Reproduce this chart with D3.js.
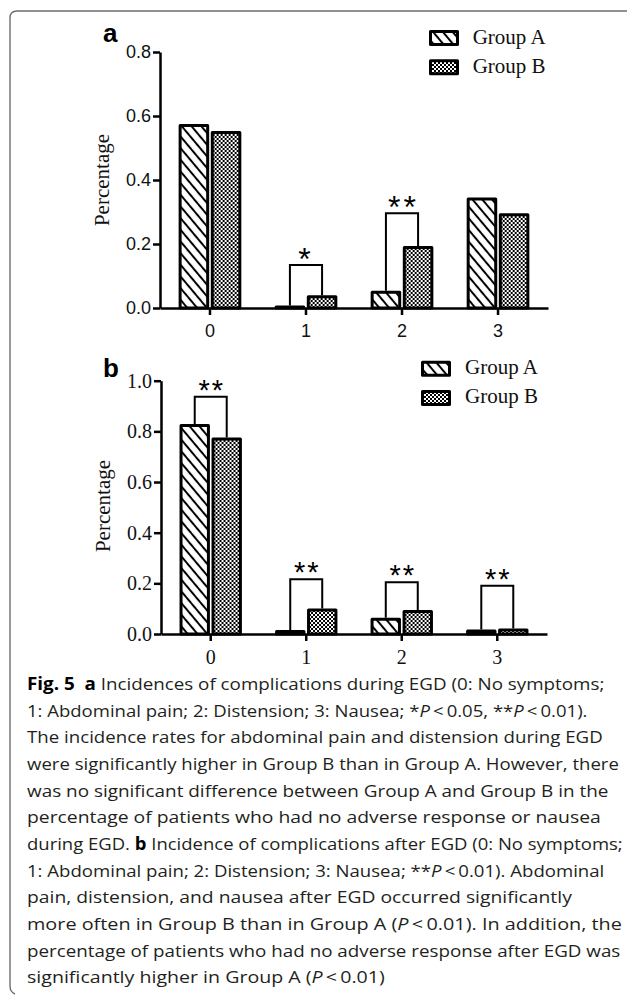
<!DOCTYPE html>
<html>
<head>
<meta charset="utf-8">
<script src="https://cdn.jsdelivr.net/npm/d3@7"></script>
<style>
  html, body { margin: 0; padding: 0; background: #fff; }
  svg { display: block; }
</style>
</head>
<body>
<script>
// ---------- DATA ----------
const categories = ["0", "1", "2", "3"];
const groups = ["Group A", "Group B"];

// Panel a: complications during EGD
const duringA = [0.575, 0.008, 0.054, 0.345];
const duringB = [0.553, 0.040, 0.194, 0.296];
const duringSig = [null, "*", "**", null];
const duringBracket = [null, 0.134, 0.296, null];
const yTicksA = [0, 0.2, 0.4, 0.6, 0.8];

// Panel b: complications after EGD
const afterA = [0.829, 0.016, 0.064, 0.018];
const afterB = [0.776, 0.101, 0.095, 0.022];
const afterSig = ["**", "**", "**", "**"];
const afterBracket = [0.937, 0.216, 0.204, 0.190];
const yTicksB = [0, 0.2, 0.4, 0.6, 0.8, 1.0];

const yLabel = "Percentage";

// Caption lines: [text, style] segments (b = bold, i = italic)
const captionLines = [
  [["Fig. 5", "b"], ["  ", ""], ["a", "b"], [" Incidences of complications during EGD (0: No symptoms;", ""]],
  [["1: Abdominal pain; 2: Distension; 3: Nausea; *", ""], ["P", "i"], ["\u2009<\u20090.05, **", ""], ["P", "i"], ["\u2009<\u20090.01).", ""]],
  [["The incidence rates for abdominal pain and distension during EGD", ""]],
  [["were significantly higher in Group B than in Group A. However, there", ""]],
  [["was no significant difference between Group A and Group B in the", ""]],
  [["percentage of patients who had no adverse response or nausea", ""]],
  [["during EGD. ", ""], ["b", "b"], [" Incidence of complications after EGD (0: No symptoms;", ""]],
  [["1: Abdominal pain; 2: Distension; 3: Nausea; **", ""], ["P", "i"], ["\u2009<\u20090.01). Abdominal", ""]],
  [["pain, distension, and nausea after EGD occurred significantly", ""]],
  [["more often in Group B than in Group A (", ""], ["P", "i"], ["\u2009<\u20090.01). In addition, the", ""]],
  [["percentage of patients who had no adverse response after EGD was", ""]],
  [["significantly higher in Group A (", ""], ["P", "i"], ["\u2009<\u20090.01)", ""]]
];
const captionRight = [605, 588, 603, 619, 609, 601, 623, 605, 572, 622, 621, 385];

// ---------- LAYOUT ----------
const W = 627, H = 995;
const svg = d3.select("body").append("svg")
  .attr("width", W).attr("height", H)
  .attr("viewBox", `0 0 ${W} ${H}`);

svg.append("rect").attr("width", W).attr("height", H).attr("fill", "#fff");

// frame
svg.append("path")
  .attr("d", "M627,11 H17 Q10,11 10,18 V986 Q10,992 15,994")
  .attr("fill", "none").attr("stroke", "#6e6e6e").attr("stroke-width", 1.4);

// patterns
const defs = svg.append("defs");
const hatch = defs.append("pattern").attr("id", "hatch")
  .attr("patternUnits", "userSpaceOnUse")
  .attr("width", 7.5).attr("height", 7.5)
  .attr("patternTransform", "rotate(-40)");
hatch.append("rect").attr("width", 7.5).attr("height", 7.5).attr("fill", "#fff");
hatch.append("line").attr("x1", 3.75).attr("y1", -1).attr("x2", 3.75).attr("y2", 8.5)
  .attr("stroke", "#000").attr("stroke-width", 2);

const checker = defs.append("pattern").attr("id", "checker")
  .attr("patternUnits", "userSpaceOnUse")
  .attr("width", 4).attr("height", 4);
checker.append("rect").attr("width", 4).attr("height", 4).attr("fill", "#fff");
checker.append("rect").attr("x", 0).attr("y", 0).attr("width", 2).attr("height", 2).attr("fill", "#000");
checker.append("rect").attr("x", 2).attr("y", 2).attr("width", 2).attr("height", 2).attr("fill", "#000");

const fills = { "Group A": "url(#hatch)", "Group B": "url(#checker)" };

const panels = [
  {
    letter: "a", A: duringA, B: duringB, sig: duringSig, br: duringBracket, yTicks: yTicksA,
    yMax: 0.8, yTop: 52, yBottom: 308, xLeft: 160, xRight: 548,
    tickFont: "'Liberation Sans', Arial, sans-serif", tickSize: 18,
    labelCx: 180, labelBase: 108.5, letterX: 103, letterY: 42,
    legendX: 429, legendY: [30, 59.3], legendTextX: 472.7, legendTextY: [43.5, 73.2],
    starSize: 32, starOff: 5, starSpacing: 3
  },
  {
    letter: "b", A: afterA, B: afterB, sig: afterSig, br: afterBracket, yTicks: yTicksB,
    yMax: 1.0, yTop: 380.7, yBottom: 634, xLeft: 161, xRight: 547,
    tickFont: "'Liberation Serif', 'Times New Roman', serif", tickSize: 20,
    labelCx: 506, labelBase: 110, letterX: 103, letterY: 377,
    legendX: 421, legendY: [360.7, 390], legendTextX: 465, legendTextY: [374, 403],
    starSize: 29, starOff: 3, starSpacing: 2
  }
];

panels.forEach(p => {
  const g = svg.append("g");
  const y = d3.scaleLinear().domain([0, p.yMax]).range([p.yBottom, p.yTop]);
  const x0 = d3.scaleBand().domain(categories).range([p.xLeft, p.xRight])
    .paddingInner(0.347).paddingOuter(0.194);
  const x1 = d3.scaleBand().domain(groups).range([0, x0.bandwidth()]).paddingInner(0.05);

  const rows = categories.map((c, i) => ({ c, i, vals: [
    { grp: "Group A", v: p.A[i] }, { grp: "Group B", v: p.B[i] }
  ]}));

  // bars
  const sw = 3;
  const cg = g.selectAll("g.cat").data(rows).join("g").attr("class", "cat")
    .attr("transform", d => `translate(${x0(d.c)},0)`);
  cg.selectAll("rect").data(d => d.vals).join("rect")
    .attr("x", d => x1(d.grp) + sw / 2)
    .attr("width", x1.bandwidth() - sw)
    .attr("y", d => y(d.v) + sw / 2)
    .attr("height", d => Math.max(0, y(0) - y(d.v) - sw / 2))
    .attr("fill", d => fills[d.grp])
    .attr("stroke", "#000").attr("stroke-width", sw)
    .attr("stroke-linejoin", "round");

  // significance brackets
  rows.forEach(r => {
    if (p.sig[r.i] == null) return;
    const cxA = x0(r.c) + x1("Group A") + x1.bandwidth() / 2;
    const cxB = x0(r.c) + x1("Group B") + x1.bandwidth() / 2;
    const yt = y(p.br[r.i]);
    g.append("path")
      .attr("d", `M${cxA},${y(p.A[r.i])} V${yt} H${cxB} V${y(p.B[r.i])}`)
      .attr("fill", "none").attr("stroke", "#000").attr("stroke-width", 2);
    g.append("text")
      .attr("x", (cxA + cxB) / 2 + p.starSpacing / 2 * (p.sig[r.i].length - 1))
      .attr("y", yt + p.starOff)
      .attr("text-anchor", "middle")
      .attr("font-family", "'Liberation Sans', Arial, sans-serif")
      .attr("font-size", p.starSize)
      .attr("letter-spacing", p.starSpacing)
      .attr("fill", "#000")
      .text(p.sig[r.i]);
  });

  // axes
  const yAxis = d3.axisLeft(y).tickValues(p.yTicks).tickFormat(d3.format(".1f"))
    .tickSize(7).tickSizeOuter(0).tickPadding(2);
  const ya = g.append("g").attr("transform", `translate(${p.xLeft},0)`).call(yAxis);
  const xAxis = d3.axisBottom(x0).tickSize(7).tickSizeOuter(0).tickPadding(9);
  const xa = g.append("g").attr("transform", `translate(0,${y(0)})`).call(xAxis);
  [ya, xa].forEach(a => {
    a.selectAll("path.domain").attr("stroke", "#000").attr("stroke-width", 2.5);
    a.selectAll(".tick line").attr("stroke", "#000").attr("stroke-width", 2.5);
    a.selectAll(".tick text").attr("fill", "#111")
      .attr("font-family", p.tickFont).attr("font-size", p.tickSize);
  });

  // y label
  g.append("text")
    .attr("transform", `translate(${p.labelBase},${p.labelCx}) rotate(-90)`)
    .attr("text-anchor", "middle")
    .attr("font-family", "'Liberation Serif', 'Times New Roman', serif")
    .attr("font-size", 21).attr("fill", "#111")
    .text(yLabel);

  // panel letter
  g.append("text")
    .attr("x", p.letterX).attr("y", p.letterY)
    .attr("font-family", "'Liberation Sans', Arial, sans-serif")
    .attr("font-weight", "bold").attr("font-size", 26).attr("fill", "#000")
    .text(p.letter);

  // legend
  groups.forEach((grp, k) => {
    g.append("rect")
      .attr("x", p.legendX + 1.5).attr("y", p.legendY[k] + 1.5)
      .attr("width", 27).attr("height", 13)
      .attr("fill", fills[grp]).attr("stroke", "#000").attr("stroke-width", 3)
      .attr("stroke-linejoin", "round");
    g.append("text")
      .attr("x", p.legendTextX).attr("y", p.legendTextY[k])
      .attr("font-family", "'Liberation Serif', 'Times New Roman', serif")
      .attr("font-size", 21).attr("fill", "#111")
      .text(grp);
  });
});

// caption
const capLeft = 27, capBase0 = 690, capStep = 26.65;
captionLines.forEach((segs, i) => {
  const t = svg.append("text")
    .attr("x", 0).attr("y", 0)
    .attr("font-family", "'Open Sans', 'Noto Sans', sans-serif")
    .attr("font-size", 17).attr("fill", "#231f20")
    .style("white-space", "pre")
    .attr("xml:space", "preserve");
  segs.forEach(([s, st]) => {
    const ts = t.append("tspan").text(s);
    if (st === "b") ts.attr("font-weight", "bold").attr("fill", "#000");
    if (st === "i") ts.attr("font-style", "italic");
  });
  const w = t.node().getComputedTextLength();
  const k = (captionRight[i] - capLeft) / w;
  t.attr("transform", `translate(${capLeft},${capBase0 + i * capStep}) scale(${k},1)`);
});
</script>
</body>
</html>
